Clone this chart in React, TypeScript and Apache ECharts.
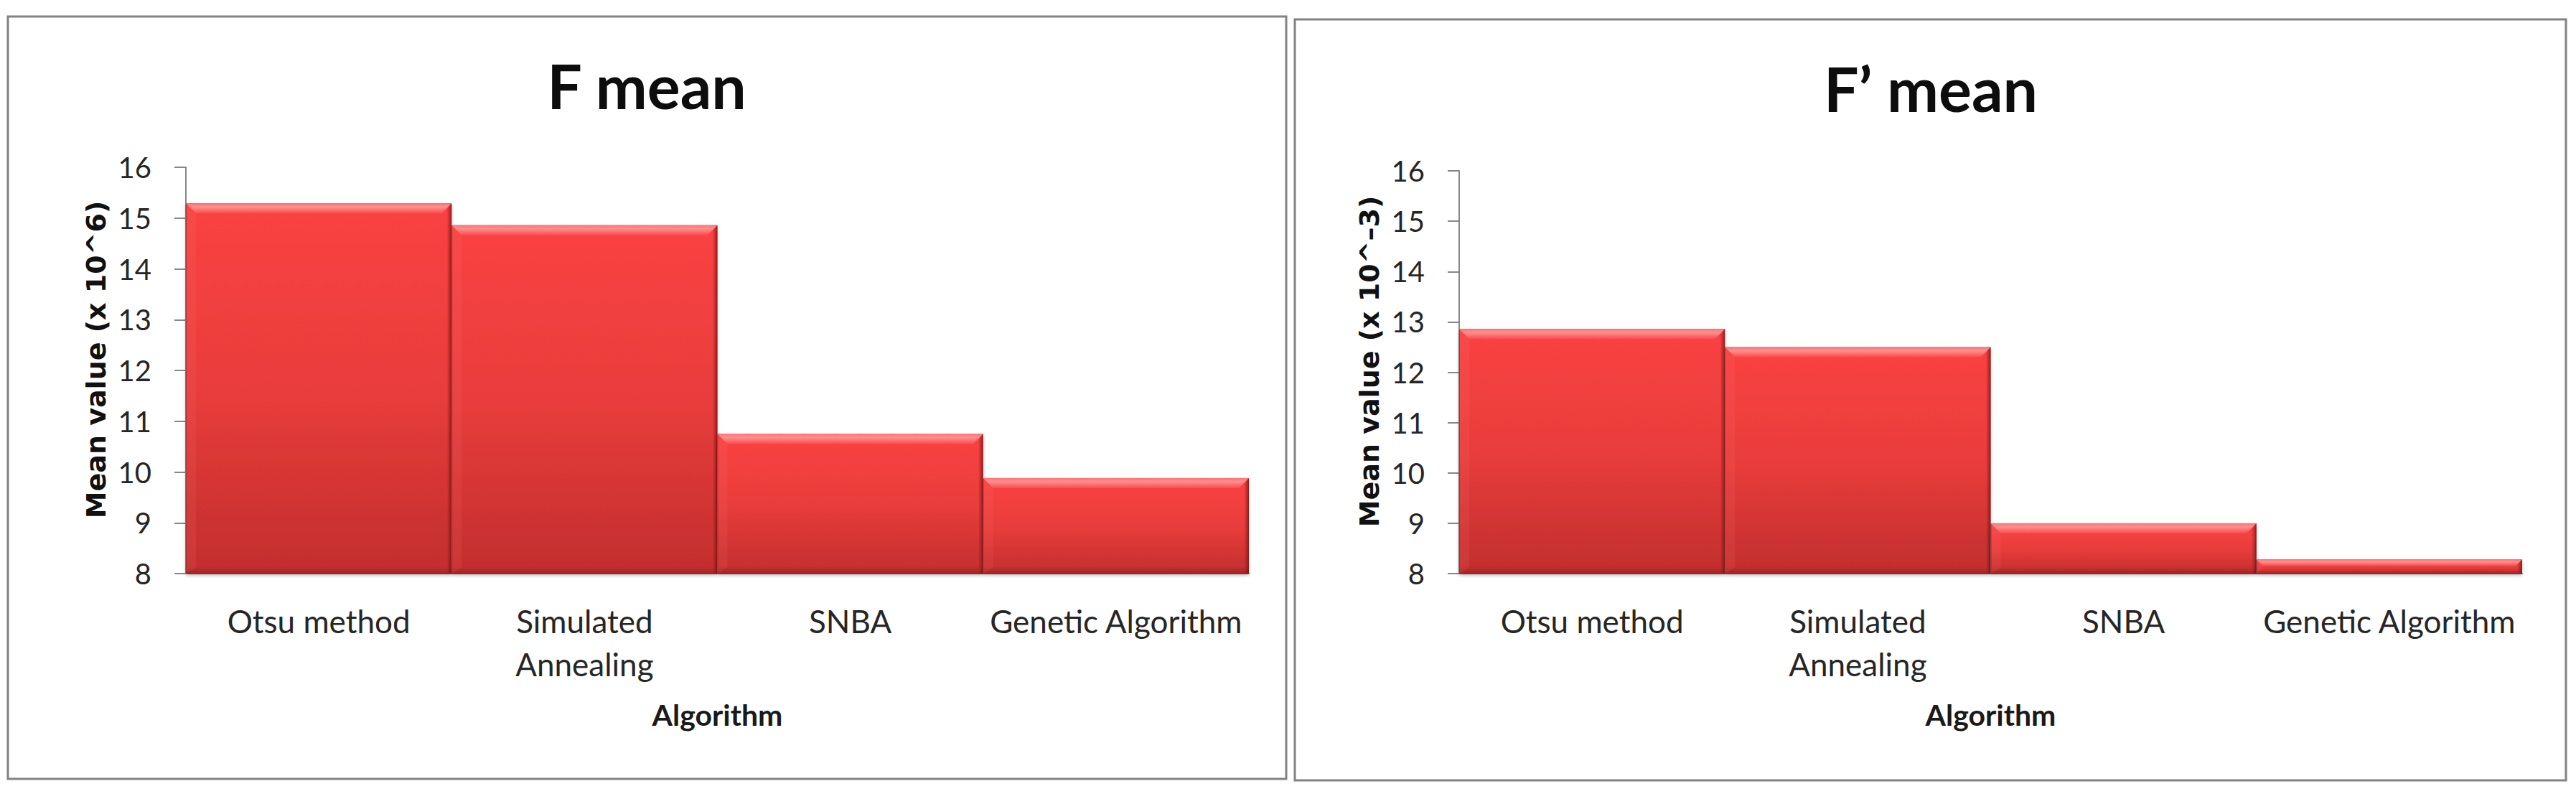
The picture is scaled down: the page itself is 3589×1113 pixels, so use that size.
import React, { useEffect, useRef } from "react";
import * as echarts from "echarts";

const categories = ["Otsu method", "Simulated Annealing", "SNBA", "Genetic Algorithm"];
const fMeanValues = [15.29, 14.86, 10.75, 9.88];
const fPrimeMeanValues = [12.86, 12.5, 9.0, 8.28];
const yMin = 8;
const yMax = 16;
const yInterval = 1;
const titles = ["F mean", "F\u2019 mean"];
const yAxisNames = ["Mean value (x 10^6)", "Mean value (x 10^\u20133)"];
const xAxisName = "Algorithm";

const W = 3589;
const H = 1113;

const barGradient = new echarts.graphic.LinearGradient(0, 0, 0, 1, [
  { offset: 0, color: "#fa4242" },
  { offset: 0.5, color: "#e93d3c" },
  { offset: 1, color: "#c22e2d" },
]);

function bevelRender(params: any, api: any) {
  const idx = api.value(0);
  const v = api.value(1);
  const top = api.coord([idx, v]);
  const base = api.coord([idx, yMin]);
  const w = api.size([1, 0])[0];
  const x0 = top[0] - w / 2;
  const x1 = top[0] + w / 2;
  const y0 = top[1];
  const y1 = base[1];
  const h = y1 - y0;
  const b = Math.min(14, h * 0.45);
  return {
    type: "group",
    children: [
      {
        type: "rect",
        shape: { x: x0, y: y1 - Math.min(10, h * 0.3), width: w, height: Math.min(10, h * 0.3) },
        style: {
          fill: new echarts.graphic.LinearGradient(0, 0, 0, 1, [
            { offset: 0, color: "rgba(150,30,30,0)" },
            { offset: 1, color: "rgba(140,25,25,0.55)" },
          ]),
        },
      },
      {
        type: "rect",
        shape: { x: x1 - 6, y: y0, width: 6, height: h },
        style: {
          fill: new echarts.graphic.LinearGradient(0, 0, 1, 0, [
            { offset: 0, color: "rgba(150,25,25,0.15)" },
            { offset: 1, color: "rgba(120,15,15,0.75)" },
          ]),
        },
      },
      {
        type: "polygon",
        shape: { points: [[x0, y0], [x1, y0], [x1 - b, y0 + b], [x0 + b, y0 + b]] },
        style: {
          fill: new echarts.graphic.LinearGradient(0, 0, 0, 1, [
            { offset: 0, color: "#ff7272" },
            { offset: 0.35, color: "#ff9090" },
            { offset: 1, color: "#fa4c4c" },
          ]),
        },
      },
      {
        type: "polygon",
        shape: { points: [[x0, y0], [x0 + b, y0 + b], [x0 + b, y1 - b * 0.6], [x0, y1]] },
        style: { fill: "rgba(255,120,120,0.12)" },
      },
    ],
  };
}

function makeAxes(gridIndex: number) {
  const axisColor = "#878787";
  return {
    x: {
      type: "category",
      gridIndex,
      data: categories,
      boundaryGap: true,
      axisLine: { show: true, lineStyle: { color: axisColor, width: 2 } },
      axisTick: { show: false },
      axisLabel: {
        color: "#262626",
        fontFamily: "Lato",
        fontSize: 44,
        margin: 36,
        lineHeight: 60,
        interval: 0,
        formatter: (v: string) => (v === "Simulated Annealing" ? "Simulated\nAnnealing" : v),
      },
      name: xAxisName,
      nameLocation: "middle",
      nameGap: 176,
      nameTextStyle: { color: "#1a1a1a", fontFamily: "Lato", fontWeight: "bold", fontSize: 41 },
      splitLine: { show: false },
    },
    y: {
      type: "value",
      gridIndex,
      min: yMin,
      max: yMax,
      interval: yInterval,
      axisLine: { show: true, lineStyle: { color: axisColor, width: 2 } },
      axisTick: { show: true, length: 16, lineStyle: { color: axisColor, width: 2 } },
      axisLabel: { color: "#262626", fontFamily: "Lato", fontSize: 40, margin: 48 },
      splitLine: { show: false },
      name: yAxisNames[gridIndex],
      nameLocation: "middle",
      nameRotate: 90,
      nameGap: 106,
      nameTextStyle: {
        color: "#111",
        fontFamily: "DejaVu Sans",
        fontWeight: "bold",
        fontSize: 38,
        padding: [0, 0, 0, 30],
      },
    },
  };
}

export default function App() {
  const ref = useRef<HTMLDivElement>(null);
  useEffect(() => {
    document.body.style.margin = "0";
    if (!ref.current) return;
    const chart = echarts.init(ref.current, null, { renderer: "svg", width: W, height: H });
    const a0 = makeAxes(0);
    const a1 = makeAxes(1);
    const seriesFor = (values: number[], idx: number) => [
      {
        type: "bar",
        xAxisIndex: idx,
        yAxisIndex: idx,
        data: values,
        barCategoryGap: "0%",
        barWidth: "100%",
        z: 2,
        itemStyle: {
          color: barGradient,
          borderColor: "rgba(110,20,20,0.55)",
          borderWidth: 1,
          shadowColor: "rgba(0,0,0,0.3)",
          shadowBlur: 5,
          shadowOffsetY: 2,
        },
      },
      {
        type: "custom",
        xAxisIndex: idx,
        yAxisIndex: idx,
        data: values.map((v, i) => [i, v]),
        encode: { x: 0, y: 1 },
        renderItem: bevelRender,
        z: 3,
        silent: true,
      },
    ];
    chart.setOption({
      animation: false,
      backgroundColor: "#ffffff",
      grid: [
        { left: 259, top: 233, width: 1481, height: 566 },
        { left: 2033, top: 238, width: 1481, height: 561 },
      ],
      xAxis: [a0.x, a1.x],
      yAxis: [a0.y, a1.y],
      series: [...seriesFor(fMeanValues, 0), ...seriesFor(fPrimeMeanValues, 1)],
      graphic: [
        {
          type: "rect",
          shape: { x: 11, y: 23, width: 1781, height: 1062 },
          style: { fill: "none", stroke: "#828282", lineWidth: 3 },
          z: 0,
        },
        {
          type: "rect",
          shape: { x: 1804, y: 27, width: 1771, height: 1060 },
          style: { fill: "none", stroke: "#828282", lineWidth: 3 },
          z: 0,
        },
        {
          type: "text",
          x: 901,
          y: 118,
          style: {
            text: titles[0],
            fontFamily: "Lato",
            fontWeight: "bold",
            fontSize: 86,
            fill: "#0d0d0d",
            textAlign: "center",
            textVerticalAlign: "middle",
          },
        },
        {
          type: "text",
          x: 2690,
          y: 122,
          style: {
            text: titles[1],
            fontFamily: "Lato",
            fontWeight: "bold",
            fontSize: 86,
            fill: "#0d0d0d",
            textAlign: "center",
            textVerticalAlign: "middle",
          },
        },
      ],
    });
    return () => chart.dispose();
  }, []);
  return <div ref={ref} style={{ width: W, height: H }} />;
}
